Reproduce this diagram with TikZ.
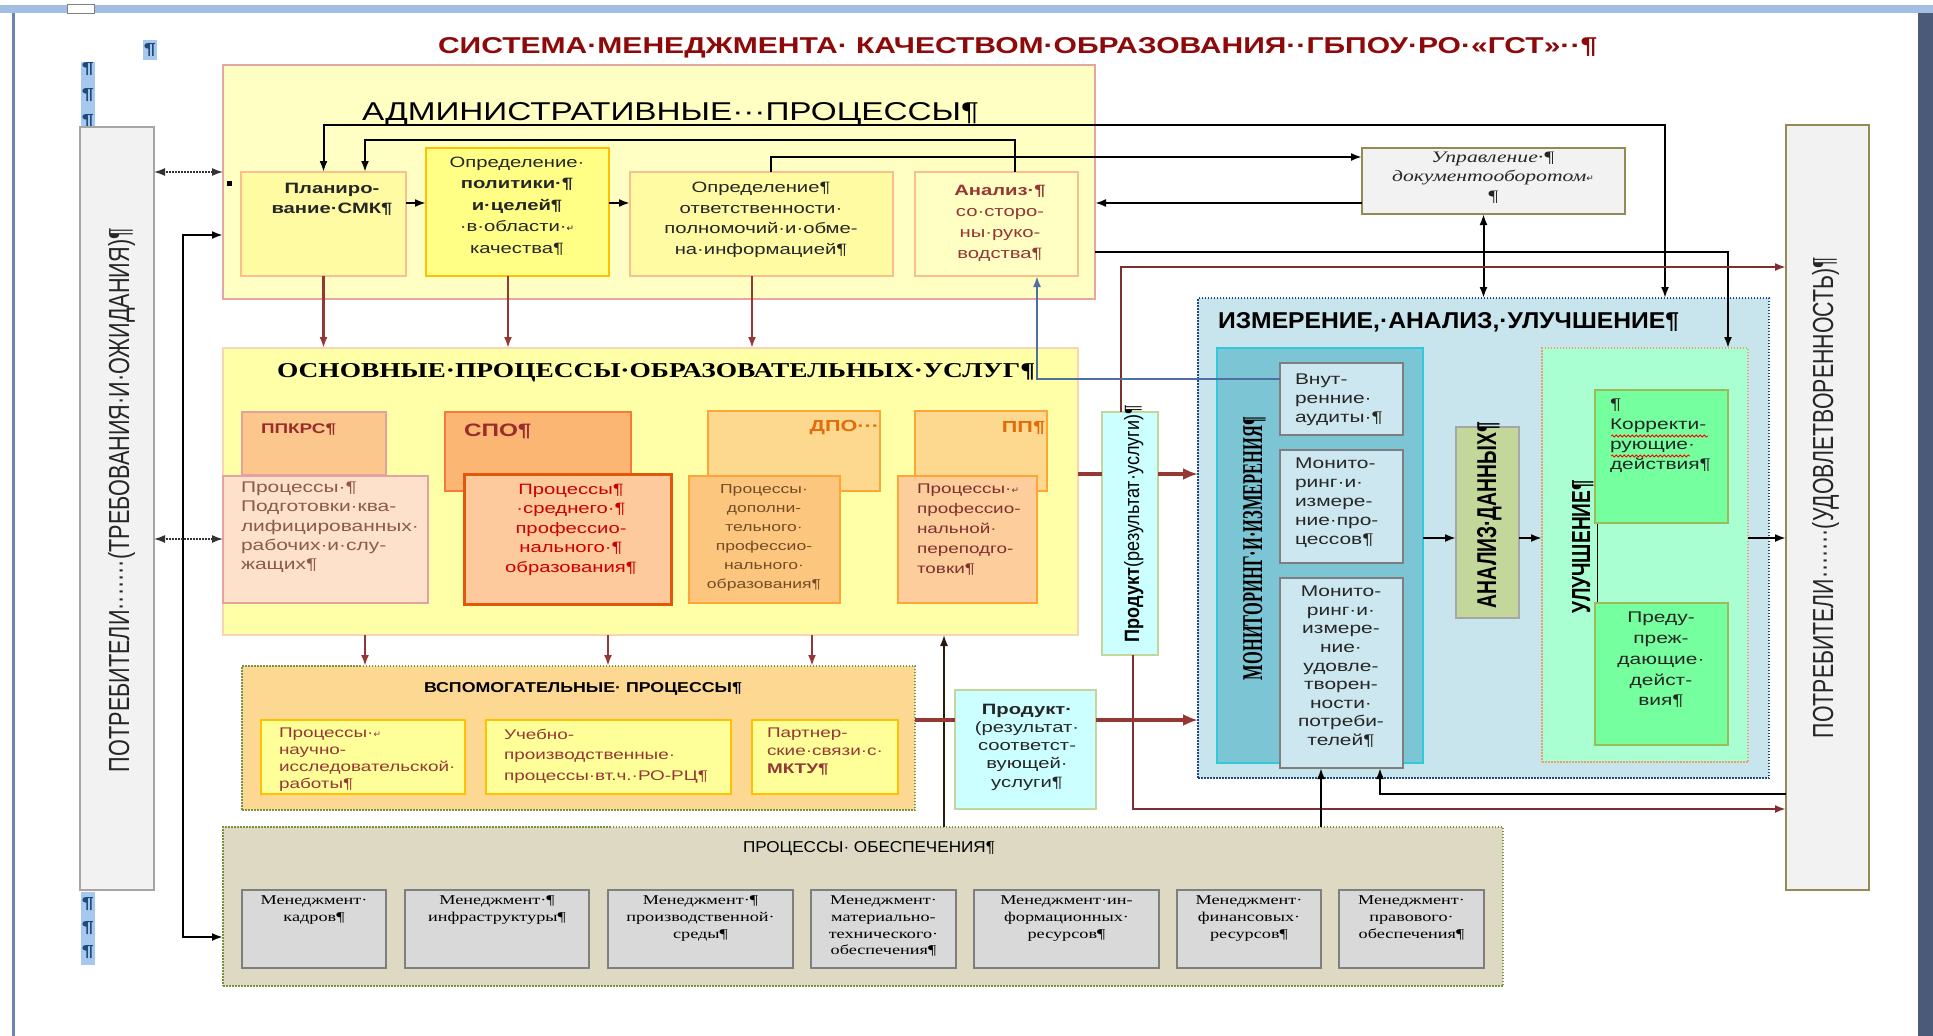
\documentclass[tikz,border=0pt]{standalone}
\usepackage{fontspec}
\usepackage{graphicx}
\setmainfont{Liberation Sans}[FakeStretch=1.35]
\newfontfamily\plainsf{Liberation Sans}
\newfontfamily\serifS{Liberation Serif}[FakeStretch=1.35]
\newfontfamily\serifP{Liberation Serif}
\newfontfamily\djv{DejaVu Sans}
\usetikzlibrary{arrows.meta,decorations.pathmorphing}
\newcommand{\fsz}[2]{\fontsize{#1}{#2}\selectfont}
\newcommand{\bx}[7]{\node[boxs,#2,anchor=north west,minimum width={(#5-#3)*1pt},minimum height={(#6-#4)*1pt}] (#1) at (#3,#4) {#7};}
\definecolor{ttl}{HTML}{8E0A0A}
\definecolor{admF}{HTML}{FFFFC4}
\definecolor{admD}{HTML}{E6A5A5}
\definecolor{planF}{HTML}{FFFBA3}
\definecolor{lorD}{HTML}{F9BF8F}
\definecolor{polF}{HTML}{FFFF85}
\definecolor{polD}{HTML}{FFC000}
\definecolor{mainF}{HTML}{FFFFA8}
\definecolor{mainD}{HTML}{FBD4B4}
\definecolor{ppkF}{HTML}{FBC78D}
\definecolor{ppkD}{HTML}{E5A0A0}
\definecolor{ppktF}{HTML}{FDE1CB}
\definecolor{spoF}{HTML}{FBB674}
\definecolor{spoD}{HTML}{F47B3C}
\definecolor{spotF}{HTML}{FCCA9C}
\definecolor{spotD}{HTML}{E0580C}
\definecolor{dpoF}{HTML}{FDD88F}
\definecolor{orD}{HTML}{FFA436}
\definecolor{dpotF}{HTML}{FDC67E}
\definecolor{pptF}{HTML}{FDCE9C}
\definecolor{cyanF}{HTML}{CCFFFF}
\definecolor{grnD}{HTML}{C3D69B}
\definecolor{vspF}{HTML}{FCD893}
\definecolor{dotG}{HTML}{77933C}
\definecolor{ylF}{HTML}{FFFF99}
\definecolor{obF}{HTML}{DDD9C3}
\definecolor{mgF}{HTML}{D9D9D9}
\definecolor{mgD}{HTML}{7F7F7F}
\definecolor{izmF}{HTML}{C8E5EE}
\definecolor{izmD}{HTML}{1F497D}
\definecolor{monF}{HTML}{7CC5D5}
\definecolor{monD}{HTML}{2EC9DA}
\definecolor{subF}{HTML}{CCE7EF}
\definecolor{adF}{HTML}{C4D79B}
\definecolor{uluF}{HTML}{A9FFD2}
\definecolor{uluD}{HTML}{E8A070}
\definecolor{korF}{HTML}{76FF9E}
\definecolor{korD}{HTML}{9BBB59}
\definecolor{uprD}{HTML}{948A54}
\definecolor{consF}{HTML}{F2F2F2}
\definecolor{redA}{HTML}{953735}
\definecolor{redL}{HTML}{7F2F2F}
\definecolor{bluL}{HTML}{4F6FA0}
\definecolor{hl}{HTML}{A6C8EE}
\definecolor{ruler}{HTML}{A3BEE3}
\definecolor{edgeL}{HTML}{6A86B0}
\definecolor{edgeR}{HTML}{4A5A78}
\definecolor{brn}{HTML}{8B5A4A}
\definecolor{dred}{HTML}{9C2B2B}
\definecolor{orT}{HTML}{E26B0A}
\definecolor{txt}{HTML}{262626}
\tikzset{
 boxs/.style={draw,rectangle,inner sep=0pt,outer sep=0pt},
 tx/.style={inner sep=0pt,outer sep=0pt},
 arr/.style={-{Latex[length=11pt,width=8pt]}},
 darr/.style={{Latex[length=11pt,width=8pt]}-{Latex[length=11pt,width=8pt]}},
 arrT/.style={-{Latex[length=15pt,width=12pt]}},
 blk/.style={draw=black,line width=2pt},
 blkthin/.style={draw=black!80!brown,line width=1.5pt},
 redm/.style={draw=redA,line width=2.5pt},
 redt/.style={draw=redA,line width=4.5pt},
 redl/.style={draw=redL,line width=2pt},
 blul/.style={draw=bluL,line width=2pt},
 dotline/.style={draw=black!80,line width=1.5pt,dash pattern=on 1.5pt off 1.5pt},
 dotb/.style={dash pattern=on 1.5pt off 1.5pt},
}
\begin{document}
\begin{tikzpicture}[x=1pt,y=-1pt]
\useasboundingbox (0,0) rectangle (1933,1036);
\fill[white] (0,0) rectangle (1933,1036);
% page artifacts
\fill[ruler] (0,5) rectangle (1933,13);
\filldraw[fill=white,draw=gray] (67,4) rectangle (94,13);
\fill[edgeL] (12,13) rectangle (15,1036);
\fill[edgeR] (1918,13) rectangle (1933,1036);
\node[tx,fill=hl,anchor=north west,minimum width=14pt,minimum height=20pt,font=\fsz{16}{16}\bfseries,text=izmD] (pm0) at (143,40) {¶};
\node[tx,fill=hl,anchor=north west,minimum width=14pt,minimum height=65pt,align=center,font=\fsz{16}{26}\bfseries,text=izmD] (pm1) at (81,62) {¶\\¶\\¶};
\node[tx,fill=hl,anchor=north west,minimum width=14pt,minimum height=73pt,align=center,font=\fsz{16}{24}\bfseries,text=izmD] (pm2) at (81,892) {¶\\¶\\¶};

% title
\node[tx,anchor=base west,text=ttl] (title) at (438,53) {\resizebox{1159pt}{16pt}{\plainsf\bfseries СИСТЕМА·МЕНЕДЖМЕНТА· КАЧЕСТВОМ·ОБРАЗОВАНИЯ··ГБПОУ·РО·«ГСТ»··¶}};

% consumers
\bx{lcons}{draw=mgD!70,fill=consF,line width=1.5pt}{80}{127}{154}{890}{}
\node[tx,rotate=90,anchor=base west,text=txt] (lconsT) at (129,772) {\resizebox{544pt}{21pt}{\plainsf ПОТРЕБИТЕЛИ·······(ТРЕБОВАНИЯ·И·ОЖИДАНИЯ)¶}};
\bx{rcons}{draw=uprD,fill=consF,line width=1.5pt}{1786}{125}{1869}{890}{}
\node[tx,rotate=90,anchor=base west,text=txt] (rconsT) at (1833,738) {\resizebox{481pt}{21pt}{\plainsf ПОТРЕБИТЕЛИ·······(УДОВЛЕТВОРЕННОСТЬ)¶}};

% administrative
\bx{admin}{draw=admD,fill=admF,line width=1.5pt}{223}{65}{1095}{299}{}
\node[tx,anchor=base west] (adminT) at (362,120) {\resizebox{617pt}{18pt}{\plainsf АДМИНИСТРАТИВНЫЕ···ПРОЦЕССЫ¶}};
\node[tx,fill=black,minimum width=5pt,minimum height=5pt] (sq) at (229,183) {};
\bx{plan}{draw=lorD,fill=planF,line width=1.5pt}{241}{172}{406}{276}{}
\bx{pol}{draw=polD,fill=polF,line width=2pt}{426}{148}{609}{276}{}
\bx{resp}{draw=lorD,fill=planF,line width=1.5pt}{630}{172}{893}{276}{}
\bx{anal}{draw=lorD,fill=admF,line width=1.5pt}{915}{172}{1078}{276}{}
\node[tx,anchor=north,align=center,font=\fsz{15}{20}\bfseries,text=txt] (tplan) at (332,183) {Планиро-\\вание·СМК¶};
\node[tx,anchor=north,align=center,font=\fsz{15}{21.5},text=txt] (tpol) at (517,157) {Определение·\\\textbf{политики·¶}\\\textbf{и·целей¶}\\·в·области·{\djv\fontsize{9}{9}\selectfont ↵}\\качества¶};
\node[tx,anchor=north,align=center,font=\fsz{15}{20.7},text=txt] (tresp) at (761,182) {Определение¶\\ответственности·\\полномочий·и·обме-\\на·информацией¶};
\node[tx,anchor=north,align=center,font=\fsz{15}{21},text=redA] (tanal) at (1000,185) {\textbf{Анализ·¶}\\со·сторо-\\ны·руко-\\водства¶};

% document management
\bx{upr}{draw=uprD,fill=consF,line width=2pt}{1362}{148}{1625}{214}{}
\node[tx,anchor=north,align=center,font=\serifS\itshape\fsz{16}{19.5},text=txt] (tupr) at (1493,152) {Управление·¶\\документооборотом{\djv\upshape\fontsize{9}{9}\selectfont ↵}\\¶};

% main processes
\bx{main}{draw=mainD,fill=mainF,line width=1.5pt}{223}{348}{1078}{635}{}
\node[tx,anchor=base west] (mainT) at (277,377) {\resizebox{758pt}{14pt}{\serifP\bfseries ОСНОВНЫЕ·ПРОЦЕССЫ·ОБРАЗОВАТЕЛЬНЫХ·УСЛУГ¶}};
\bx{ppkrsH}{draw=ppkD,fill=ppkF,line width=1.5pt}{242}{412}{386}{475}{}
\bx{spoH}{draw=spoD,fill=spoF,line width=1.5pt}{445}{412}{631}{491}{}
\bx{dpoH}{draw=orD,fill=dpoF,line width=1.5pt}{708}{411}{880}{491}{}
\bx{ppH}{draw=orD,fill=dpoF,line width=1.5pt}{915}{411}{1047}{491}{}
\node[tx,anchor=west,font=\fsz{14}{14}\bfseries,text=dred] (ppkrsL) at (261,430) {ППКРС¶};
\node[tx,anchor=west,font=\fsz{18}{18}\bfseries,text=dred] (spoL) at (464,431) {СПО¶};
\node[tx,anchor=east,font=\fsz{16}{16}\bfseries,text=orT] (dpoL) at (879,428) {ДПО···};
\node[tx,anchor=east,font=\fsz{16}{16}\bfseries,text=orT] (ppL) at (1045,428) {ПП¶};
\bx{ppkrs}{draw=ppkD,fill=ppktF,line width=1.5pt}{223}{476}{428}{603}{}
\bx{spo}{draw=spotD,fill=spotF,line width=3pt}{464}{474}{671}{604}{}
\bx{dpo}{draw=orD,fill=dpotF,line width=1.5pt}{689}{476}{840}{603}{}
\bx{pp}{draw=orD,fill=pptF,line width=1.5pt}{898}{476}{1037}{603}{}
\node[tx,anchor=north west,align=left,font=\fsz{15.5}{19.3},text=brn] (tppkrs) at (241,482) {Процессы·¶\\Подготовки·ква-\\лифицированных·\\рабочих·и·слу-\\жащих¶};
\node[tx,anchor=north,align=center,font=\fsz{15}{19.5},text=red!80!black] (tspo) at (571,484) {Процессы¶\\·среднего·¶\\профессио-\\нального·¶\\образования¶};
\node[tx,anchor=north,align=center,font=\fsz{13}{19},text=brown!60!black] (tdpo) at (764,485) {Процессы·\\дополни-\\тельного·\\профессио-\\нального·\\образования¶};
\node[tx,anchor=north west,align=left,font=\fsz{14}{20},text=redL] (tpp) at (917,484) {Процессы·{\djv\fontsize{9}{9}\selectfont ↵}\\профессио-\\нальной·\\переподго-\\товки¶};

% product vertical
\bx{prodv}{draw=grnD,fill=cyanF,line width=1.5pt}{1102}{412}{1158}{655}{}
\node[tx,rotate=90,anchor=base west,text=black] (prodvT) at (1139,642) {\resizebox{237pt}{15pt}{\plainsf\textbf{Продукт}(результат·услуги)¶}};

% auxiliary
\bx{vsp}{draw=dotG,dotb,fill=vspF,line width=1.5pt}{242}{666}{915}{810}{}
\node[tx,anchor=base west] (vspT) at (424,692) {\resizebox{318pt}{10pt}{\plainsf\bfseries ВСПОМОГАТЕЛЬНЫЕ· ПРОЦЕССЫ¶}};
\bx{nir}{draw=polD,fill=ylF,line width=2pt}{261}{720}{465}{794}{}
\bx{up}{draw=polD,fill=ylF,line width=2pt}{486}{720}{731}{794}{}
\bx{part}{draw=polD,fill=ylF,line width=2pt}{752}{720}{898}{794}{}
\begin{scope}
\clip (262,721) rectangle (464,793);
\node[tx,anchor=north west,align=left,font=\fsz{14}{17},text=redA] (tnir) at (279,728) {Процессы·{\djv\fontsize{9}{9}\selectfont ↵}\\научно-\\исследовательской·\\работы¶};
\end{scope}
\node[tx,anchor=north west,align=left,font=\fsz{14}{20.5},text=redA] (tup) at (504,729) {Учебно-\\производственные·\\процессы·вт.ч.·РО-РЦ¶};
\node[tx,anchor=north west,align=left,font=\fsz{14}{18},text=redA] (tpart) at (767,728) {Партнер-\\ские·связи·с·\\\textbf{МКТУ¶}};
\bx{prod}{draw=grnD,fill=cyanF,line width=1.5pt}{955}{690}{1096}{809}{}
\node[tx,anchor=north,align=center,font=\fsz{15}{18.2},text=txt] (tprod) at (1027,704) {\textbf{Продукт·}\\(результат·\\соответст-\\вующей·\\услуги¶};

% support
\bx{obes}{draw=dotG,dotb,fill=obF,line width=1.5pt}{223}{827}{1503}{986}{}
\node[tx,anchor=base west] (obesT) at (743,852) {\resizebox{252pt}{11pt}{\plainsf ПРОЦЕССЫ· ОБЕСПЕЧЕНИЯ¶}};
\bx{mA}{draw=mgD,fill=mgF,line width=2pt}{242}{890}{386}{968}{}
\bx{mB}{draw=mgD,fill=mgF,line width=2pt}{405}{890}{589}{968}{}
\bx{mC}{draw=mgD,fill=mgF,line width=2pt}{608}{890}{793}{968}{}
\bx{mD}{draw=mgD,fill=mgF,line width=2pt}{811}{890}{956}{968}{}
\bx{mE}{draw=mgD,fill=mgF,line width=2pt}{974}{890}{1159}{968}{}
\bx{mF}{draw=mgD,fill=mgF,line width=2pt}{1177}{890}{1321}{968}{}
\bx{mG}{draw=mgD,fill=mgF,line width=2pt}{1339}{890}{1484}{968}{}
\tikzset{mgt/.style={tx,anchor=north,align=center,font=\serifS\fsz{13.5}{16.7},text=black}}
\node[mgt] (tmA) at ([yshift=-6pt]mA.north) {Менеджмент·\\кадров¶};
\node[mgt] (tmB) at ([yshift=-6pt]mB.north) {Менеджмент·¶\\инфраструктуры¶};
\node[mgt] (tmC) at ([yshift=-6pt]mC.north) {Менеджмент·¶\\производственной·\\среды¶};
\node[mgt] (tmD) at ([yshift=-6pt]mD.north) {Менеджмент·\\материально-\\технического·\\обеспечения¶};
\node[mgt] (tmE) at ([yshift=-6pt]mE.north) {Менеджмент·ин-\\формационных·\\ресурсов¶};
\node[mgt] (tmF) at ([yshift=-6pt]mF.north) {Менеджмент·\\финансовых·\\ресурсов¶};
\node[mgt] (tmG) at ([yshift=-6pt]mG.north) {Менеджмент·\\правового·\\обеспечения¶};

% measurement
\bx{izm}{draw=izmD,dotb,fill=izmF,line width=1.5pt}{1198}{298}{1769}{778}{}
\node[tx,anchor=base west] (izmT) at (1218,328) {\resizebox{461pt}{16pt}{\plainsf\bfseries ИЗМЕРЕНИЕ,·АНАЛИЗ,·УЛУЧШЕНИЕ¶}};
\bx{mon}{draw=monD,fill=monF,line width=1.5pt}{1217}{348}{1423}{763}{}
\node[tx,rotate=90,anchor=base west] (monT) at (1262,680) {\resizebox{263pt}{19pt}{\serifP\bfseries МОНИТОРИНГ·И·ИЗМЕРЕНИЯ¶}};
\bx{aud}{draw=mgD,fill=subF,line width=2pt}{1280}{363}{1403}{435}{}
\bx{monp}{draw=mgD,fill=subF,line width=2pt}{1280}{450}{1403}{563}{}
\bx{monu}{draw=mgD,fill=subF,line width=2pt}{1280}{578}{1403}{768}{}
\node[tx,anchor=north west,align=left,font=\fsz{15.5}{19},text=txt] (taud) at (1295,374) {Внут-\\ренние·\\аудиты·¶};
\node[tx,anchor=north west,align=left,font=\fsz{15.5}{19},text=txt] (tmonp) at (1295,458) {Монито-\\ринг·и·\\измере-\\ние·про-\\цессов¶};
\node[tx,anchor=north,align=center,font=\fsz{15.5}{18.6},text=txt] (tmonu) at (1341,586) {Монито-\\ринг·и·\\измере-\\ние·\\удовле-\\творен-\\ности·\\потреби-\\телей¶};
\bx{adat}{draw=black!35,fill=adF,line width=1.5pt}{1456}{427}{1519}{618}{}
\node[tx,rotate=90,anchor=base west] (adatT) at (1496,608) {\resizebox{186pt}{19pt}{\plainsf\bfseries АНАЛИЗ·ДАННЫХ¶}};
\bx{ulu}{draw=uluD,dotb,fill=uluF,line width=1.5pt}{1542}{348}{1748}{762}{}
\node[tx,rotate=90,anchor=base west] (uluT) at (1590,613) {\resizebox{133pt}{18pt}{\plainsf\bfseries\underline{УЛУЧШЕНИЕ¶}}};
\bx{kor}{draw=korD,fill=korF,line width=1.5pt}{1595}{390}{1728}{523}{}
\bx{pred}{draw=korD,fill=korF,line width=1.5pt}{1595}{603}{1728}{745}{}
\node[tx,anchor=north west,align=left,font=\fsz{15.5}{20},text=txt] (tkor) at (1610,399) {¶\\Корректи-\\рующие·\\действия¶};
\draw[red,line width=0.8pt,decorate,decoration={snake,amplitude=1pt,segment length=4pt}] (1611,436) -- (1708,436);
\draw[red,line width=0.8pt,decorate,decoration={snake,amplitude=1pt,segment length=4pt}] (1611,456) -- (1690,456);
\node[tx,anchor=north,align=center,font=\fsz{15.5}{20.8},text=txt] (tpred) at (1661,612) {Преду-\\преж-\\дающие·\\дейст-\\вия¶};

% ---------------- connectors
\draw[blk,darr] ([xshift=181.5pt]izm.north) -- ++(0,-173) -| (plan.north);
\draw[blk,arr] ([xshift=18.5pt]anal.north) -- ++(0,-32) -| ([xshift=41.5pt]plan.north);
\draw[blk,arr] ([xshift=9.5pt]resp.north) |- ([yshift=24pt]upr.west);
\draw[blk,arr] ([yshift=-22pt]upr.west) -- ([yshift=-22pt]upr.west -| admin.east);
\draw[blk,arr] ([yshift=-70pt]admin.east) -| ([xshift=83pt]ulu.north);
\draw[blk,darr] (izm.north |- upr.south) -- (izm.north);
\draw[blk,arr] ([yshift=21pt]plan.east) -- ([yshift=21pt]plan.east -| pol.west);
\draw[blk,arr] ([yshift=9pt]pol.east) -- ([yshift=9pt]pol.east -| resp.west);
\draw[blk,darr] ([yshift=-53pt]admin.west) -- ++(-40,0) |- ([yshift=-30.5pt]obes.west);
\draw[dotline,darr] ([yshift=10pt]admin.west) -- ([yshift=10pt]admin.west -| lcons.east);
\draw[dotline,darr] ([yshift=-47.5pt]main.west) -- ([yshift=-47.5pt]main.west -| lcons.east);

\draw[redm,arr] (plan.south) -- (plan.south |- main.north);
\draw[redm,arr] ([xshift=-9.5pt]pol.south) -- ([xshift=-9.5pt]pol.south |- main.north);
\draw[redm,arr] ([xshift=-9.5pt]resp.south) -- ([xshift=-9.5pt]resp.south |- main.north);
\draw[redm,arr] ([xshift=142pt]main.south west) -- ++(0,31);
\draw[redm,arr] ([xshift=385pt]main.south west) -- ++(0,31);
\draw[redm,arr] ([xshift=589pt]main.south west) -- ++(0,31);

\draw[redl,arr] ([xshift=-9pt]prodv.north) |- ([yshift=240.5pt]rcons.west);
\draw[redl,arr] ([xshift=3pt]prodv.south) |- ([yshift=-301.5pt]rcons.west);
\draw[blkthin,arr] ([xshift=81pt]obes.north) -- ([xshift=81pt]obes.north |- main.south);
\draw[redt] ([yshift=17.5pt]main.east) -- ([yshift=17.5pt]main.east -| prodv.west);
\draw[redt,arrT] ([yshift=59.5pt]prodv.east) -- ([yshift=59.5pt]prodv.east -| izm.west);
\draw[redt] ([yshift=18pt]vsp.east) -- ([yshift=18pt]vsp.east -| prod.west);
\draw[redt,arrT] ([yshift=29.5pt]prod.east) -- ([yshift=29.5pt]prod.east -| izm.west);
\draw[blul,arr] ([yshift=20pt]aud.west) -| ([xshift=40.5pt]anal.south);

\draw[blk,arr] ([xshift=-20.5pt]monu.south |- obes.north) -- ([xshift=-20.5pt]monu.south);
\draw[blk,arr] ([yshift=-286.5pt]rcons.west) -| ([xshift=38.5pt]monu.south);
\draw[blk,arr] ([yshift=17.5pt]mon.east) -- ([yshift=17.5pt]mon.east -| adat.west);
\draw[blk,arr] ([yshift=-15.5pt]adat.east) -- ([yshift=-15.5pt]adat.east -| ulu.west);
\draw[blk,arr] ([yshift=17pt]ulu.east) -- ([yshift=17pt]ulu.east -| rcons.west);
\end{tikzpicture}
\end{document}
